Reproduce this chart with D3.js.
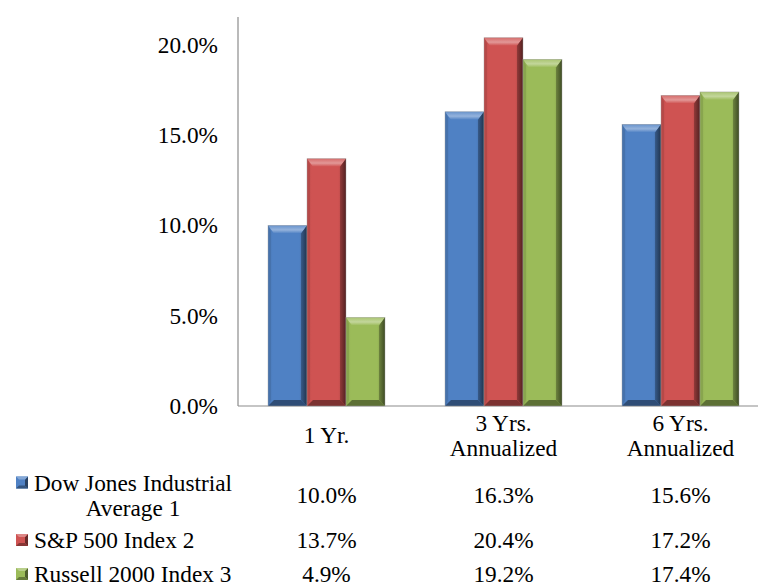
<!DOCTYPE html>
<html><head><meta charset="utf-8">
<script src="https://cdn.jsdelivr.net/npm/d3@7/dist/d3.min.js"></script>
<style>
body{margin:0;background:#fff;}
svg{display:block;}
text{font-family:"Liberation Serif","Times New Roman",serif;fill:#000;}
</style></head>
<body>
<svg id="chart" width="758" height="588"></svg>
<script>
const categories = [["1 Yr."], ["3 Yrs.", "Annualized"], ["6 Yrs.", "Annualized"]];
const categoryKeys = ["1 Yr.", "3 Yrs. Annualized", "6 Yrs. Annualized"];
const seriesNames = [["Dow Jones Industrial", "Average 1"], ["S&P 500 Index 2"], ["Russell 2000 Index 3"]];
const dowJones = [10.0, 16.3, 15.6];
const sp500 = [13.7, 20.4, 17.2];
const russell = [4.9, 19.2, 17.4];
const yTicks = [0, 5, 10, 15, 20];
const seriesColors = ["#4f81c4", "#cf5352", "#9bbb59"];

const seriesValues = [dowJones, sp500, russell];
const svg = d3.select("#chart");
const FS = 23.3;

const y = d3.scaleLinear().domain([0, 20]).range([406, 45]);
const x0 = d3.scaleBand().domain(categoryKeys).range([238, 769]);
const x1 = d3.scaleBand().domain([0, 1, 2]).range([30, 147]);

const defs = svg.append("defs");
function mix(c, t, a) { return d3.interpolateRgb(c, t)(a); }
seriesColors.forEach((c, i) => {
  const g = defs.append("linearGradient").attr("id", "body" + i).attr("x1", 0).attr("x2", 1).attr("y1", 0).attr("y2", 0);
  g.append("stop").attr("offset", 0).attr("stop-color", mix(c, "#000", 0.1));
  g.append("stop").attr("offset", 0.12).attr("stop-color", c);
  g.append("stop").attr("offset", 0.8).attr("stop-color", c);
  g.append("stop").attr("offset", 1).attr("stop-color", mix(c, "#000", 0.25));
  const t = defs.append("linearGradient").attr("id", "top" + i).attr("x1", 0).attr("x2", 0).attr("y1", 0).attr("y2", 1);
  t.append("stop").attr("offset", 0).attr("stop-color", mix(c, "#fff", 0.15));
  t.append("stop").attr("offset", 0.55).attr("stop-color", mix(c, "#fff", 0.4));
  t.append("stop").attr("offset", 1).attr("stop-color", c);
  const r = defs.append("linearGradient").attr("id", "right" + i).attr("x1", 0).attr("x2", 1).attr("y1", 0).attr("y2", 0);
  r.append("stop").attr("offset", 0).attr("stop-color", mix(c, "#000", 0.3));
  r.append("stop").attr("offset", 1).attr("stop-color", mix(c, "#000", 0.6));
});

svg.append("line").attr("x1", 238).attr("x2", 238).attr("y1", y(21.55)).attr("y2", y(0))
  .attr("stroke", "#8c8c8c").attr("stroke-width", 1.2);
svg.append("line").attr("x1", 238).attr("x2", 758).attr("y1", y(0)).attr("y2", y(0))
  .attr("stroke", "#8c8c8c").attr("stroke-width", 1.2);

svg.selectAll(".ytick").data(yTicks).join("text")
  .attr("x", 218).attr("y", d => y(d)).attr("dy", "0.34em")
  .attr("text-anchor", "end").style("font-size", FS + "px")
  .text(d => d3.format(".1f")(d) + "%");

function drawBar(g, x, w, yt, yb, i) {
  const b = Math.min(6, (yb - yt) / 2);
  const c = seriesColors[i];
  g.append("rect").attr("x", x).attr("y", yt).attr("width", w).attr("height", yb - yt).attr("fill", `url(#body${i})`);
  g.append("polygon").attr("points", [[x, yt], [x + w, yt], [x + w - b, yt + b + 2], [x + b, yt + b + 2]].join(" ")).attr("fill", `url(#top${i})`);
  g.append("polygon").attr("points", [[x + w, yt], [x + w, yb], [x + w - b, yb - b], [x + w - b, yt + b + 2]].join(" ")).attr("fill", `url(#right${i})`);
  g.append("polygon").attr("points", [[x, yb], [x + w, yb], [x + w - b, yb - b], [x + b, yb - b]].join(" ")).attr("fill", mix(c, "#000", 0.4));
  g.append("polygon").attr("points", [[x, yt], [x + b * 0.5, yt + b], [x + b * 0.5, yb - b], [x, yb]].join(" ")).attr("fill", mix(c, "#000", 0.12));
  g.append("rect").attr("x", x).attr("y", yt).attr("width", w).attr("height", yb - yt).attr("fill", "none").attr("stroke", "#a0a0a0").attr("stroke-width", 0.6).attr("stroke-opacity", 0.7);
}
categoryKeys.forEach((cat, ci) => {
  seriesValues.forEach((vals, si) => {
    const g = svg.append("g");
    drawBar(g, x0(cat) + x1(si), x1.bandwidth(), y(vals[ci]), y(0), si);
  });
});

categories.forEach((lines, ci) => {
  const cx = x0(categoryKeys[ci]) + x0.bandwidth() / 2;
  const lh = 25;
  const base = 443 - (lines.length - 1) * lh / 2;
  lines.forEach((l, li) => {
    svg.append("text").attr("x", cx).attr("y", base + li * lh).attr("text-anchor", "middle")
      .style("font-size", FS + "px").text(l);
  });
});

const rowBase = [503, 548, 582];
seriesNames.forEach((lines, si) => {
  const lh = 25;
  const base = rowBase[si] - (lines.length - 1) * lh / 2;
  const ky = base - 14;
  const kg = svg.append("g");
  drawKey(kg, 16, ky, 12, si);
  if (lines.length > 1) {
    lines.forEach((l, li) => {
      svg.append("text").attr("x", 133).attr("y", base + li * lh).attr("text-anchor", "middle")
        .style("font-size", FS + "px").text(l);
    });
  } else {
    svg.append("text").attr("x", 34).attr("y", base).style("font-size", FS + "px").text(lines[0]);
  }
  categoryKeys.forEach((cat, ci) => {
    svg.append("text").attr("x", x0(cat) + x0.bandwidth() / 2).attr("y", rowBase[si]).attr("text-anchor", "middle")
      .style("font-size", FS + "px").text(d3.format(".1f")(seriesValues[si][ci]) + "%");
  });
});
function drawKey(g, x, yt, s, i) {
  const c = seriesColors[i];
  g.append("rect").attr("x", x).attr("y", yt).attr("width", s).attr("height", s).attr("fill", c);
  g.append("polygon").attr("points", [[x + s, yt], [x + s, yt + s], [x + s - 3, yt + s - 3], [x + s - 3, yt + 3]].join(" ")).attr("fill", mix(c, "#000", 0.5));
  g.append("polygon").attr("points", [[x, yt + s], [x + s, yt + s], [x + s - 3, yt + s - 3], [x + 3, yt + s - 3]].join(" ")).attr("fill", mix(c, "#000", 0.35));
  g.append("polygon").attr("points", [[x, yt], [x + s, yt], [x + s - 3, yt + 3], [x + 3, yt + 3]].join(" ")).attr("fill", mix(c, "#fff", 0.3));
}
</script>
</body></html>
